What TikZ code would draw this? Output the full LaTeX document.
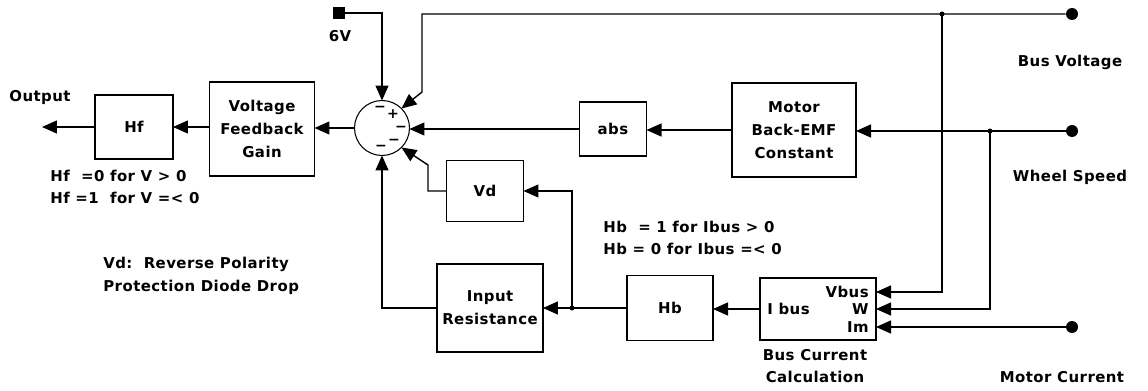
\documentclass[tikz,border=0pt]{standalone}
\usepackage{fontspec}
\setmainfont{DejaVu Sans}[LetterSpace=3]
\usetikzlibrary{arrows.meta,calc}
\begin{document}
\begin{tikzpicture}[x=0.02cm,y=-0.02cm,
  font=\fontsize{8.5}{13}\selectfont\bfseries,
  blk/.style={draw,line width=0.8pt,inner sep=0pt,outer sep=0pt,align=center},
  arr/.style={line width=0.8pt,-{Triangle[length=0.3cm,width=0.26cm]}},
  term/.style={circle,fill,inner sep=0pt,minimum size=0.24cm},
  jdot/.style={circle,fill,inner sep=0pt,minimum size=0.1cm},
  lbl/.style={inner sep=0pt,align=left},
  sgn/.style={inner sep=0pt,font=\fontsize{8}{8}\selectfont\bfseries}
]
\path[use as bounding box] (0,0) rectangle (1148,391);

% blocks
\node[blk,minimum width=1.56cm,minimum height=1.28cm] (hf) at (134,127) {Hf};
\node[blk,minimum width=2.1cm,minimum height=1.88cm] (vfg) at (262,129) {Voltage\\Feedback\\Gain};
\node[draw,circle,line width=0.6pt,minimum size=1.1cm,inner sep=0pt,outer sep=0pt] (sum) at (382,128) {};
\node[blk,minimum width=1.34cm,minimum height=1.08cm] (abs) at (613,129) {abs};
\node[blk,minimum width=2.48cm,minimum height=1.88cm] (bemf) at (794,130) {Motor\\Back-EMF\\Constant};
\node[blk,minimum width=1.54cm,minimum height=1.22cm] (vd) at (485,191) {Vd};
\node[blk,minimum width=2.12cm,minimum height=1.76cm] (inr) at (490,308) {Input\\Resistance};
\node[blk,minimum width=1.72cm,minimum height=1.3cm] (hb) at (670,308) {Hb};
\node[blk,minimum width=2.32cm,minimum height=1.24cm] (bcc) at (818,309) {};

% sources and terminals
\node[fill,inner sep=0pt,minimum size=0.24cm] (v6) at (339,13) {};
\node[term] (busv) at (1072,14) {};
\node[term] (whl) at (1072,131) {};
\node[term] (mcur) at (1072,327) {};

% helper points
\coordinate (jb) at (942,14);
\coordinate (jw) at (990,131);
\coordinate (jr) at (572,308);
\coordinate (bvk) at (422,92);
\coordinate (vdk) at (428,165);
\coordinate (pv) at (876,292);
\coordinate (pw) at (876,309);
\coordinate (pim) at (876,327);
\coordinate (out) at (42,127);

% connectors
\draw[arr] (sum.west) -- (sum.west -| vfg.east);
\draw[arr] (vfg.west |- hf) -- (hf.east);
\draw[arr] (hf.west) -- (out);
\draw[arr] (v6.east) -| (sum.north);
\draw[arr] (busv.west) -- (busv.west -| bvk) -- (bvk) -- (sum.45);
\draw[arr] (jb) |- (pv);
\draw[arr] (abs.west) -- (abs.west -| sum.east);
\draw[arr] (bemf.west) -- (bemf.west -| abs.east);
\draw[arr] (whl.west) -- (whl.west -| bemf.east);
\draw[arr] (jw) |- (pw);
\draw[arr] (mcur.west) -- (pim);
\draw[arr] (bcc.west) -- (bcc.west -| hb.east);
\draw[arr] (hb.west) -- (inr.east);
\draw[arr] (jr) |- (vd.east);
\draw[arr] (vd.west) -| (vdk) -- (sum.-45);
\draw[arr] (inr.west) -| (sum.south);
\node[jdot] at (jb) {};
\node[jdot] at (jw) {};
\node[jdot] at (jr) {};

% signs in summer
\node[sgn] at (380,109) {−};
\node[sgn] at (393,114) {+};
\node[sgn] at (401,129) {−};
\node[sgn] at (394,142) {−};
\node[sgn] at (381,148) {−};

% ports of bus current block
\node[lbl,anchor=east] at (869,292) {Vbus};
\node[lbl,anchor=east] at (869,309) {W};
\node[lbl,anchor=east] at (869,327) {Im};
\node[lbl,anchor=west] at (767,309) {I bus};

% labels
\node[lbl] (tout) at (40,98) {Output};
\node[lbl] (t6v) at (340,36) {6V};
\node[lbl,anchor=west] (thf) at (50,187) {Hf\ \ =0 for V > 0\\Hf =1\ \ for V =< 0};
\node[lbl,anchor=west] (tvd) at (103,276) {Vd:\ \ Reverse Polarity\\Protection Diode Drop};
\node[lbl,anchor=west] (thb) at (603,238) {Hb\ \ = 1 for Ibus > 0\\Hb = 0 for Ibus =< 0};
\node[lbl,align=center] (tbcc) at (815,366) {Bus Current\\Calculation};
\node[lbl] (tbv) at (1070,62) {Bus Voltage};
\node[lbl] (tws) at (1070,177) {Wheel Speed};
\node[lbl] (tmc) at (1062,377) {Motor Current};
\end{tikzpicture}
\end{document}
